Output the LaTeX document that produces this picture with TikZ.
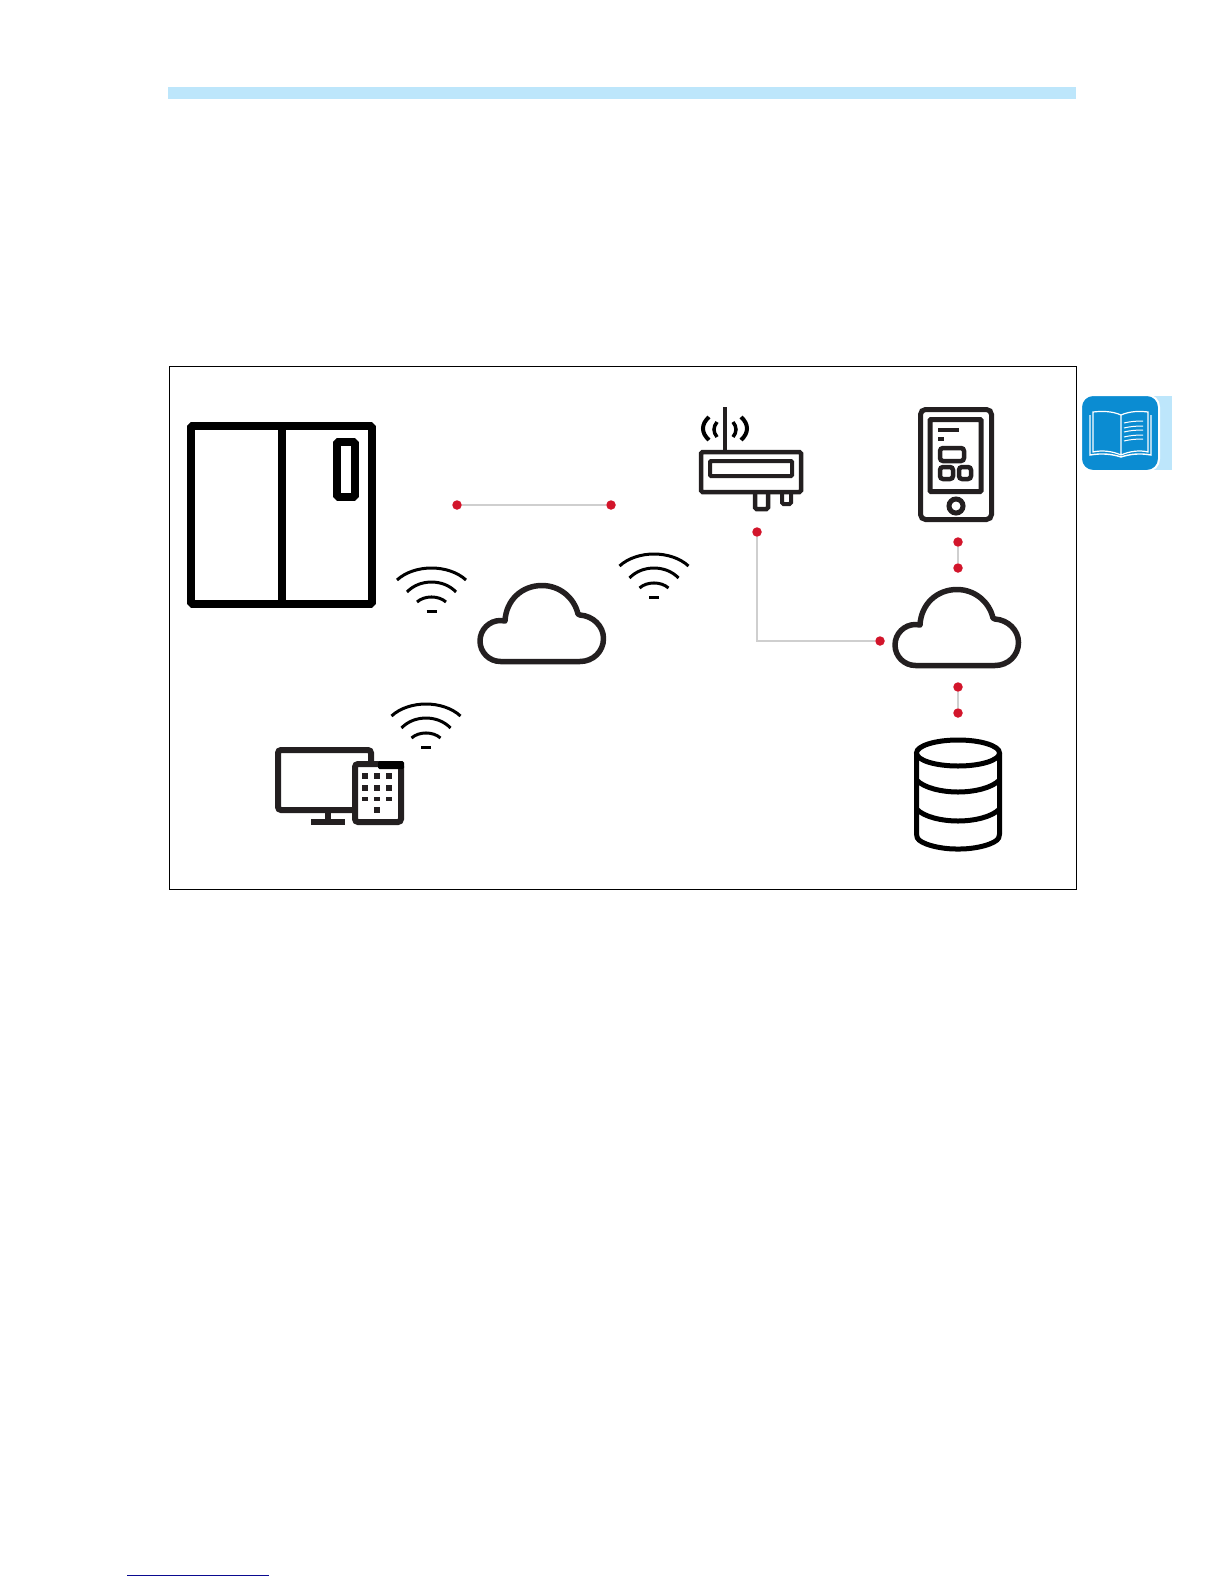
\documentclass[tikz,border=0pt]{standalone}
\definecolor{ink}{HTML}{231F20}
\definecolor{dotred}{HTML}{D2152B}
\definecolor{linkgrey}{HTML}{CFCFCF}
\definecolor{bandblue}{HTML}{BDE6FB}
\definecolor{bookblue}{HTML}{0B8CD2}
\definecolor{rulenavy}{HTML}{0A0A90}
\tikzset{
	reddot/.style={circle, fill=dotred, inner sep=0pt, minimum size=9.5pt},
	link/.style={draw=linkgrey, line width=2.4pt},
	icon/.style={draw=ink, line width=5pt},
	fridge/.style={draw=black, line width=8pt, line join=bevel},
	wifiarc/.style={black, line width=3pt},
	wifiicon/.pic={
		\draw[wifiarc] (-34.5,-31) .. controls (-17,-47) and (17,-47) .. (34.5,-31);
		\draw[wifiarc] (-24.5,-19) .. controls (-12,-32.3) and (12,-32.3) .. (24.5,-19);
		\draw[wifiarc] (-14.5,-9) .. controls (-7,-15.7) and (7,-15.7) .. (14.5,-9);
		\draw[wifiarc] (-5,0) -- (5,0);
	},
	cloudicon/.pic={
		\draw[draw=ink, line width=5.5pt, line join=round] (-41.5,37.5)
			.. controls (-52.8,37.5) and (-62,28.3) .. (-62,17)
			.. controls (-62,5.7) and (-52.8,-3.5) .. (-41.5,-3.5) -- (-37,-3)
			.. controls (-36,-24) and (-20,-38.5) .. (0,-38.5)
			.. controls (17,-38.5) and (32,-27) .. (36,-10) -- (38,-9)
			.. controls (51,-8) and (61.5,2) .. (61.5,14.5)
			.. controls (61.5,27.5) and (51,37.5) .. (38,37.5) -- cycle;
	}
}
\begin{document}
\begin{tikzpicture}[x=1pt, y=-1pt]
	\useasboundingbox (0,0) rectangle (1224,1584);
	\fill[bandblue] (168,87) rectangle (1076,99);
	\draw[black, line width=0.8pt] (169,366) rectangle (1076.5,889);
	\draw[rulenavy, line width=1pt] (127,1575) -- (269,1575);

	\fill[bandblue] (1150,396) rectangle (1172,470);
	\draw[draw=white, line width=2pt, fill=bookblue, rounded corners=12pt] (1081,395) rectangle (1159,471);
	\draw[white, line width=1.2pt] (1121,415) .. controls (1112,411) and (1102,411) .. (1093,412) -- (1093,452)
		.. controls (1102,450) and (1112,451) .. (1121,455)
		.. controls (1130,451) and (1140,450) .. (1148,452) -- (1148,412)
		.. controls (1140,411) and (1130,411) .. (1121,415) -- (1121,455);
	\draw[white, line width=1.4pt] (1090,415) -- (1090,455) .. controls (1102,453) and (1112,454) .. (1121,457)
		.. controls (1130,454) and (1140,453) .. (1151,455) -- (1151,415);
	\foreach \y in {423,428,432,437,441}
		\draw[white, line width=1pt] (1124,\y) .. controls (1130,\y-1.5) and (1136,\y-2) .. (1143,\y-2);

	\draw[fridge] (191,426) rectangle (372,604);
	\draw[fridge] (282,426) -- (282,604);
	\draw[fridge] (337,442) rectangle (355,497);

	\node[reddot] (leftend) at (457,505) {};
	\node[reddot] (rightend) at (611,505) {};
	\draw[link, line width=1.8pt] (leftend) -- (rightend);

	\pic at (431.5,611) {wifiicon};
	\pic at (654,597) {wifiicon};
	\pic at (426,747) {wifiicon};

	\pic at (542,624) {cloudicon};
	\pic at (957,628) {cloudicon};

	\draw[icon, line width=4.5pt, rounded corners=1.5pt] (701,452) rectangle (801,492);
	\draw[icon, line width=4pt, rounded corners=1pt] (710,461) rectangle (792,476);
	\draw[icon, line width=4.5pt] (725,407) -- (725,452);
	\draw[icon, line width=4.5pt, rounded corners=1.5pt] (755,494) -- (755,509) -- (768,509) -- (768,494);
	\draw[icon, line width=4pt, rounded corners=1.5pt] (782,494) -- (782,504) -- (791,504) -- (791,494);
	\draw[black, line width=4pt] (709,417) .. controls (701,424) and (701,433) .. (709,440);
	\draw[black, line width=3.5pt] (717,422) .. controls (713,427) and (713,432) .. (717,437);
	\draw[black, line width=4pt] (741,417) .. controls (749,424) and (749,433) .. (741,440);
	\draw[black, line width=3.5pt] (733,422) .. controls (737,427) and (737,432) .. (733,437);

	\draw[icon, rounded corners=5pt] (920.5,409.5) rectangle (991.5,519.5);
	\draw[icon, rounded corners=1pt] (930,419.5) rectangle (981,491.5);
	\draw[icon, line width=4pt] (938,430) -- (959,430);
	\draw[icon, line width=4pt] (938,439) -- (944,439);
	\draw[icon, line width=4.5pt, rounded corners=3pt] (940,448) rectangle (964,461);
	\draw[icon, line width=4.5pt, rounded corners=3pt] (940,467) rectangle (953,479);
	\draw[icon, line width=4.5pt, rounded corners=3pt] (959,467) rectangle (971,479);
	\draw[icon] (956,506) circle (7pt);

	\node[reddot] (routerdot) at (757,532) {};
	\node[reddot] (clouddot) at (880,641) {};
	\draw[link] (routerdot) |- (clouddot);

	\node[reddot] (tabletdot) at (958,542) {};
	\node[reddot] (cloudtop) at (958,568) {};
	\draw[link] (tabletdot) -- (cloudtop);

	\node[reddot] (cloudbottom) at (958,687) {};
	\node[reddot] (storedot) at (958,713) {};
	\draw[link] (cloudbottom) -- (storedot);

	\draw[draw=black, line width=5pt] (958,753) ellipse (41.5pt and 13pt);
	\draw[draw=black, line width=5pt, rounded corners=2pt] (916.5,753) -- (916.5,836)
		.. controls (920,844) and (940,849) .. (958,849)
		.. controls (976,849) and (996,844) .. (999.5,836) -- (999.5,753);
	\draw[draw=black, line width=5pt] (916.5,780) .. controls (924,788) and (942,792) .. (958,792)
		.. controls (974,792) and (992,788) .. (999.5,780);
	\draw[draw=black, line width=5pt] (916.5,809) .. controls (924,817) and (942,821) .. (958,821)
		.. controls (974,821) and (992,817) .. (999.5,809);

	\draw[icon, line width=6pt, rounded corners=3pt] (371,762) -- (371,750) -- (278,750) -- (278,810) -- (353,810);
	\draw[icon, line width=6pt] (328,813) -- (328,822);
	\draw[icon, line width=6pt] (311,822) -- (345,822);
	\draw[icon, line width=6pt, fill=white, rounded corners=3pt] (355,764) rectangle (401,822);
	\fill[black, rounded corners=1.5pt] (378,761) rectangle (404,769);
	\foreach \x in {365,377,389} {
		\fill[ink] (\x-3,773) rectangle (\x+3,779);
		\fill[ink] (\x-3,785) rectangle (\x+3,791);
		\fill[ink] (\x-3,797) rectangle (\x+3,801);
	}
	\fill[ink] (374,807) rectangle (380,813);
\end{tikzpicture}
\end{document}
